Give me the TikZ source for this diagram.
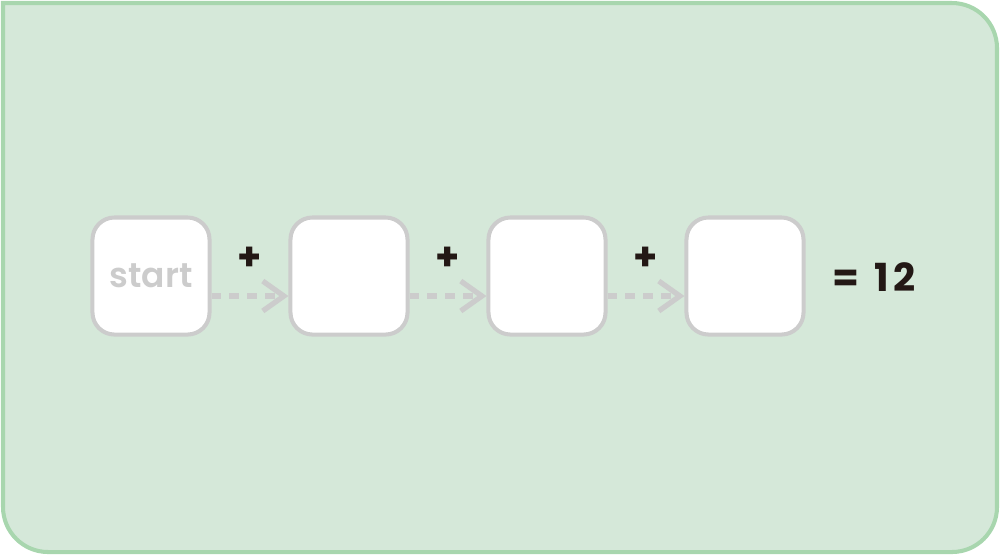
\documentclass[tikz,border=0pt]{standalone}
\usepackage{fontspec}
\newfontfamily\boxfont{Poppins}
\newfontfamily\startfont{Poppins SemiBold}
\usetikzlibrary{arrows.meta}
\definecolor{panelfill}{HTML}{D5E8D9}
\definecolor{paneledge}{HTML}{A8D6AE}
\definecolor{boxedge}{HTML}{CCCCCC}
\definecolor{ink}{HTML}{231815}
\tikzset{
  cell/.style={draw=boxedge,fill=white,line width=1.15pt,rounded corners=0.22cm,
    minimum width=1.17cm,minimum height=1.17cm,inner sep=0pt},
  link/.style={draw=boxedge,line width=1.6pt,dash pattern=on 2.7pt off 2.4pt,
    -{Straight Barb[length=6pt,width=8.5pt,line width=1.5pt]}},
  sign/.style={text=ink,font=\boxfont\bfseries\fontsize{11}{13}\selectfont}
}
\begin{document}
\begin{tikzpicture}[x=0.01cm,y=-0.01cm]
    \pgfmathsetmacro{\row}{276}
    \useasboundingbox (0,0) rectangle (1000,556);
    % green panel, square top left corner
    \draw[fill=panelfill,draw=paneledge,line width=1.15pt]
      (3,3) [rounded corners=0.45cm] -- (997,3) -- (997,552) -- (3,552) [sharp corners] -- cycle;
    \node[cell,text=boxedge,font=\startfont\fontsize{9.8}{11}\selectfont] (start) at (151,\row) {start};
    \node[cell] (b2) at (349,\row) {};
    \node[cell] (b3) at (547,\row) {};
    \node[cell] (b4) at (745,\row) {};
    \draw[link] ([yshift=-0.2cm]start.east) -- ([yshift=-0.2cm]b2.west);
    \draw[link] ([yshift=-0.2cm]b2.east) -- ([yshift=-0.2cm]b3.west);
    \draw[link] ([yshift=-0.2cm]b3.east) -- ([yshift=-0.2cm]b4.west);
    \node[sign] (p1) at (250,259) {+};
    \node[sign] (p2) at (448,259) {+};
    \node[sign] (p3) at (646,259) {+};
    \node[sign] (total) at (874,277) {=\hspace{4.5pt}1\kern1.2pt2};
  \end{tikzpicture}
\end{document}
